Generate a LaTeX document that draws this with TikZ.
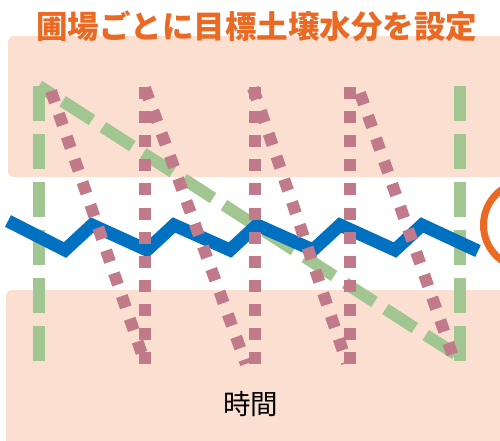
\documentclass[tikz,border=0pt]{standalone}
\usepackage{fontspec}
\newfontfamily\jpfont{Noto Sans CJK JP}
\usetikzlibrary{positioning}
\definecolor{band}{RGB}{251,223,209}
\definecolor{leaf}{RGB}{162,198,145}
\definecolor{mauve}{RGB}{193,122,138}
\definecolor{water}{RGB}{0,112,192}
\definecolor{flame}{RGB}{234,106,36}

\begin{document}
\begin{tikzpicture}[
  x=1pt, y=-1pt,
  bandbox/.style={fill=band, rounded corners=6pt},
  target/.style={leaf, line width=12pt, dash pattern=on 35pt off 13pt},
  plan/.style={mauve, line width=12pt, dash pattern=on 12pt off 12.1pt},
  moist/.style={water, line width=13pt, line join=miter},
  ring/.style={flame, line width=7pt},
]
\useasboundingbox (0,0) rectangle (500,440);
\clip (0,0) rectangle (500,440);
% background bands
\fill[bandbox] (8,36) rectangle (520,177);
\fill[bandbox] (6,290) rectangle (520,470);
\node[font=\jpfont\bfseries\fontsize{31.5}{34}\selectfont, text=flame] (title) at (256.5,26) {圃場ごとに目標土壌水分を設定};
\node[font=\jpfont\fontsize{27.5}{30}\selectfont] (time) at (250.5,404) {時間};
% target band
\draw[target] (39,361) -- (39,86);
\draw[target, dash phase=20pt] (39,86) -- (460,357);
\draw[target] (460,361) -- (460,86);
% soil moisture
\draw[moist] (8,221) -- (65,250) -- (92,225) -- (147,250) -- (174,225) -- (230,250)
  -- (257,225) -- (313,250) -- (340,225) -- (395,250) -- (422,225) -- (478,251);
% irrigation
\foreach \x in {145,255,350}
  \draw[plan] (\x,87) -- (\x,364);
\draw[plan] (51,91) -- (145,363);
\draw[plan] (145,88) -- (246,364);
\draw[plan] (253,88) -- (347,363);
\draw[plan] (360,93) -- (455,362);
\draw[ring] (527,225) circle (43.5);
\end{tikzpicture}
\end{document}
